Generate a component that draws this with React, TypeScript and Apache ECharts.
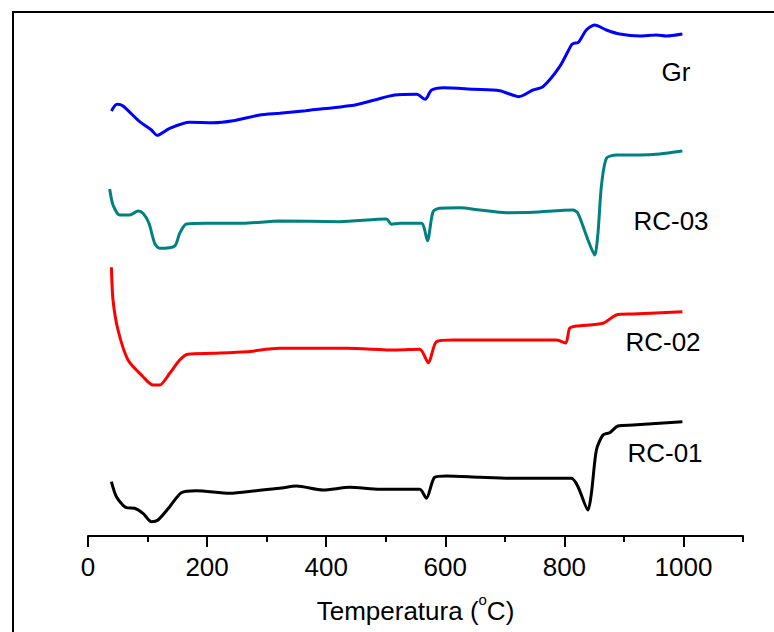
import React, { useEffect, useRef } from "react";
import * as echarts from "echarts";

// Temperature (°C) for each trace point, and signal (arbitrary units, offset per curve)
const grT = [39.3, 48.7, 58.8, 86.8, 106.5, 115.9, 137.2, 170.8, 209.9, 243.5, 288.2, 321.9, 365.6, 448.5, 481.4, 514.9, 552, 566.2, 577, 597.3, 647.4, 691.4, 723.8, 747.3, 764.1, 792.1, 811.8, 815.6, 822.8, 836.9, 850.9, 870.5, 892.9, 926.5, 954.5, 971.3, 998.2];
const grV = [425, 431.7, 430, 414.3, 406, 400.7, 407.7, 413.7, 413.3, 415.3, 421, 422.7, 425.3, 431, 436, 441, 441.7, 436.7, 446, 448.3, 446.7, 445.3, 439.3, 446, 449.3, 469.3, 491, 492.7, 493.3, 506, 511, 506, 502, 500, 501, 500, 502];

const rc03T = [36.4, 42.0, 53.2, 70.0, 84.0, 92.4, 102.4, 112.0, 120.4, 145.6, 154.0, 165.2, 198.8, 260.3, 321.9, 422.7, 501.1, 509.5, 523.4, 559.9, 570.0, 579.4, 590.6, 624.2, 657.8, 702.6, 747.3, 814.5, 822.9, 839.7, 850.9, 856.4, 862.1, 870.6, 887.3, 926.5, 960.1, 998.2];
const rc03V = [347, 331, 321, 321, 325, 322.7, 312.7, 292.7, 287.7, 290, 302.7, 312, 312.7, 312.7, 315, 314.3, 317, 311.7, 312.7, 312.7, 295.3, 324.3, 327.7, 328.3, 326, 323.3, 323.7, 326, 322.7, 296, 281, 302.7, 349.3, 377.7, 381, 381, 382, 385];

const rc02T = [39.3, 42.0, 50.4, 67.2, 92.4, 109.2, 120.4, 137.2, 154.0, 167.9, 209.9, 266.0, 321.9, 433.9, 517.9, 557.0, 571.6, 585.1, 612.9, 713.7, 786.6, 802.2, 808.9, 820.2, 864.8, 887.3, 915.2, 998.2];
const rc02V = [268.7, 236, 206, 176, 159.3, 151, 151, 162.7, 176, 181.7, 182.7, 184.3, 187.7, 187.7, 186, 186.7, 173.3, 194.3, 196, 196, 196, 193, 207.7, 210, 212.7, 221, 222, 224.3];

const rc01T = [39.3, 47.7, 64.5, 78.4, 92.4, 106.5, 117.6, 137.2, 156.8, 182.0, 238.0, 282.8, 321.9, 350.0, 394.6, 439.5, 489.9, 557.0, 568.3, 582.2, 601.9, 657.8, 713.7, 811.8, 822.9, 839.7, 845.4, 853.8, 864.8, 876.1, 890.0, 915.2, 998.2];
const rc01V = [54.3, 39.3, 28.3, 27.7, 22.7, 14.3, 16, 29.3, 43.3, 45.3, 42.7, 45.3, 47.7, 50, 46, 48.7, 46.7, 46.7, 37.7, 58.7, 60, 58.7, 57.7, 57.7, 49.3, 26, 42.7, 86, 101, 103.3, 110, 111, 114.3];

const seriesNames = ["Gr", "RC-03", "RC-02", "RC-01"];
const seriesColors = ["#0000ff", "#008080", "#ff0000", "#000000"];
const majorTicks = [0, 200, 400, 600, 800, 1000];
const minorTicks = [100, 300, 500, 700, 900, 1100];

const zip = (t: number[], v: number[]) => t.map((x, i) => [x, v[i]]);

export default function App() {
  const ref = useRef<HTMLDivElement>(null);
  useEffect(() => {
    if (!ref.current) return;
    const chart = echarts.init(ref.current, undefined, { renderer: "svg" });
    const font = "Liberation Sans, Arial, sans-serif";
    const data = [zip(grT, grV), zip(rc03T, rc03V), zip(rc02T, rc02V), zip(rc01T, rc01V)];
    const labelPos = [
      [676, 72],
      [671, 221],
      [663, 342],
      [665, 453],
    ];
    chart.setOption({
      animation: false,
      backgroundColor: "#ffffff",
      grid: { left: 88, right: 31, top: 12, bottom: 96 },
      xAxis: [
        {
          type: "value",
          min: 0,
          max: 1100,
          interval: 200,
          position: "bottom",
          splitLine: { show: false },
          axisLine: { lineStyle: { color: "#000", width: 2 } },
          axisTick: { show: true, length: 11, customValues: majorTicks, lineStyle: { color: "#000", width: 2 } },
          axisLabel: {
            customValues: majorTicks,
            formatter: (v: number) => String(v),
            margin: 18,
            fontSize: 26,
            color: "#000",
            fontFamily: font,
          },
          name: "Temperatura ({sup|o}C)",
          nameLocation: "middle",
          nameGap: 62,
          nameTextStyle: {
            fontSize: 26,
            color: "#000",
            fontFamily: font,
            rich: {
              sup: { fontSize: 15, verticalAlign: "top", lineHeight: 6, padding: [-6, 0, 0, 0], color: "#000", fontFamily: font },
            },
          },
        },
        {
          type: "value",
          min: 0,
          max: 1100,
          interval: 100,
          position: "bottom",
          splitLine: { show: false },
          axisLine: { show: false },
          axisLabel: { show: false },
          axisTick: { show: true, length: 6, customValues: minorTicks, lineStyle: { color: "#000", width: 2 } },
        },
      ],
      yAxis: {
        type: "value",
        min: 0,
        max: 524,
        show: false,
        splitLine: { show: false },
      },
      series: data.map((d, i) => ({
        name: seriesNames[i],
        type: "line",
        xAxisIndex: 0,
        data: d,
        symbol: "none",
        smooth: 0.25,
        lineStyle: { color: seriesColors[i], width: 3 },
      })),
      graphic: [
        { type: "line", shape: { x1: 13, y1: 12, x2: 13, y2: 632 }, style: { stroke: "#000", lineWidth: 2 } },
        { type: "line", shape: { x1: 12, y1: 12, x2: 774, y2: 12 }, style: { stroke: "#000", lineWidth: 2 } },
        ...seriesNames.map((n, i) => ({
          type: "text",
          x: labelPos[i][0],
          y: labelPos[i][1],
          style: {
            text: n,
            fontSize: 26,
            fontFamily: font,
            fill: "#000",
            align: "center",
            verticalAlign: "middle",
          },
        })),
      ],
    });
    return () => chart.dispose();
  }, []);
  return (
    <div
      ref={ref}
      style={{ position: "absolute", left: 0, top: 0, width: 774, height: 632 }}
    />
  );
}
